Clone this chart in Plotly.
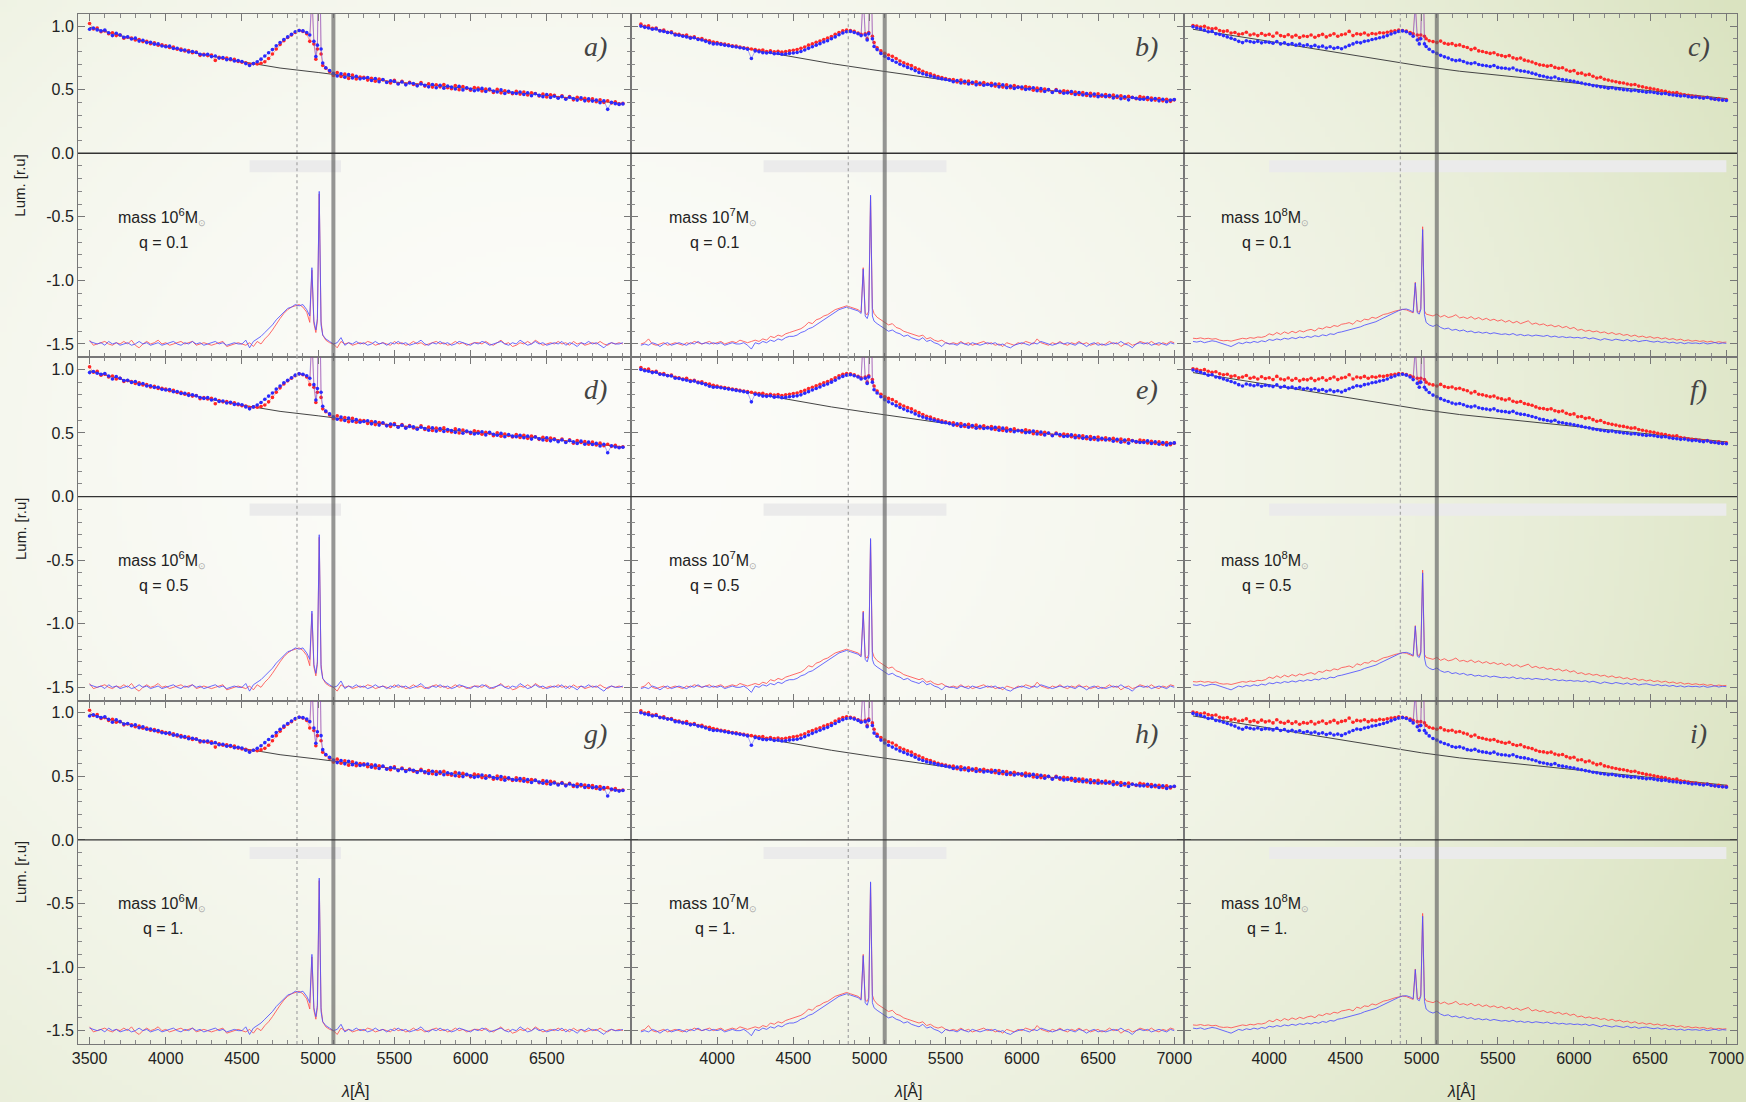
import zlib, struct, base64
import numpy as np
import plotly.graph_objects as go
from plotly.subplots import make_subplots

# ---------------- data ----------------
WL = list(range(3500, 4901, 25)) + [4925, 4945, 4959, 4972, 4985, 4995, 5007, 5019, 5030] + list(range(5050, 7001, 25))

CONT_X = [3500, 3750, 4000, 4250, 4500, 4750, 5000, 5250, 5500, 5750, 6000, 6250, 6500, 6750, 7000]
CONT = [
    [0.99, 0.91, 0.84, 0.775, 0.72, 0.67, 0.635, 0.595, 0.56, 0.535, 0.51, 0.485, 0.455, 0.422, 0.39],
    [1.0, 0.93, 0.865, 0.81, 0.755, 0.705, 0.66, 0.62, 0.575, 0.545, 0.515, 0.485, 0.455, 0.435, 0.415],
    [0.975, 0.93, 0.88, 0.83, 0.78, 0.73, 0.685, 0.645, 0.615, 0.58, 0.55, 0.52, 0.49, 0.46, 0.43],
]

# column 1 : mass 1e6
U1R = [1.020, 0.978, 0.985, 0.955, 0.962, 0.940, 0.948, 0.925, 0.930, 0.905,
       0.912, 0.905, 0.890, 0.895, 0.878, 0.880, 0.862, 0.868, 0.850, 0.852,
       0.845, 0.832, 0.835, 0.818, 0.820, 0.805, 0.808, 0.790, 0.795, 0.770,
       0.778, 0.768, 0.772, 0.730, 0.755, 0.745, 0.748, 0.735, 0.738, 0.722,
       0.715, 0.712, 0.700, 0.705, 0.702, 0.708, 0.720, 0.745, 0.780, 0.820,
       0.855, 0.885, 0.910, 0.930, 0.950, 0.965, 0.958,
       0.940, 0.880, 1.240, 0.860, 0.740, 0.820, 1.820, 0.780, 0.690,
       0.668, 0.642, 0.612, 0.635, 0.603, 0.622, 0.588, 0.615, 0.584, 0.600,
       0.598, 0.575, 0.590, 0.566, 0.583, 0.577, 0.560, 0.552, 0.574, 0.548,
       0.566, 0.545, 0.558, 0.540, 0.536, 0.556, 0.528, 0.546, 0.520, 0.538,
       0.522, 0.540, 0.515, 0.508, 0.532, 0.500, 0.524, 0.510, 0.496, 0.517,
       0.512, 0.490, 0.505, 0.497, 0.478, 0.502, 0.475, 0.492, 0.480, 0.468,
       0.488, 0.465, 0.482, 0.458, 0.475, 0.470, 0.450, 0.466, 0.442, 0.460,
       0.455, 0.438, 0.452, 0.430, 0.446, 0.420, 0.440, 0.425, 0.432, 0.412,
       0.428, 0.405, 0.420, 0.400, 0.412, 0.395, 0.404, 0.388, 0.392]
U1B = [0.975, 0.984, 0.970, 0.962, 0.968, 0.948, 0.925, 0.944, 0.930, 0.912,
       0.915, 0.898, 0.905, 0.882, 0.889, 0.870, 0.872, 0.858, 0.860, 0.843,
       0.838, 0.842, 0.824, 0.826, 0.810, 0.812, 0.796, 0.800, 0.792, 0.779,
       0.772, 0.778, 0.760, 0.765, 0.748, 0.752, 0.736, 0.742, 0.725, 0.728,
       0.722, 0.705, 0.690, 0.705, 0.720, 0.740, 0.765, 0.790, 0.815, 0.845,
       0.870, 0.895, 0.915, 0.935, 0.955, 0.965, 0.962,
       0.950, 0.930, 1.250, 0.880, 0.760, 0.850, 1.850, 0.820, 0.710,
       0.672, 0.650, 0.628, 0.608, 0.625, 0.598, 0.618, 0.592, 0.605, 0.585,
       0.590, 0.596, 0.572, 0.588, 0.562, 0.580, 0.556, 0.570, 0.565, 0.545,
       0.560, 0.538, 0.552, 0.548, 0.530, 0.545, 0.535, 0.522, 0.540, 0.515,
       0.535, 0.512, 0.528, 0.520, 0.505, 0.526, 0.498, 0.515, 0.505, 0.492,
       0.498, 0.510, 0.485, 0.505, 0.490, 0.482, 0.498, 0.470, 0.488, 0.475,
       0.470, 0.482, 0.462, 0.475, 0.452, 0.468, 0.455, 0.445, 0.462, 0.438,
       0.448, 0.432, 0.445, 0.425, 0.440, 0.430, 0.418, 0.436, 0.412, 0.428,
       0.410, 0.418, 0.398, 0.412, 0.345, 0.400, 0.390, 0.384, 0.388]
L1R = [-1.47, -1.51, -1.50, -1.49, -1.48, -1.50, -1.51, -1.49, -1.50, -1.48,
       -1.50, -1.47, -1.51, -1.53, -1.50, -1.48, -1.50, -1.49, -1.47, -1.50,
       -1.49, -1.51, -1.50, -1.49, -1.48, -1.50, -1.49, -1.48, -1.51, -1.50,
       -1.49, -1.50, -1.51, -1.50, -1.49, -1.48, -1.52, -1.51, -1.50, -1.49,
       -1.50, -1.51, -1.49, -1.52, -1.48, -1.50, -1.46, -1.43, -1.39, -1.34,
       -1.30, -1.26, -1.23, -1.21, -1.20, -1.19, -1.21,
       -1.25, -1.33, -0.92, -1.34, -1.41, -1.32, -0.32, -1.32, -1.43,
       -1.47, -1.49, -1.50, -1.53, -1.48, -1.50, -1.49, -1.51, -1.50, -1.49,
       -1.50, -1.48, -1.49, -1.51, -1.50, -1.49, -1.50, -1.51, -1.48, -1.50,
       -1.49, -1.51, -1.50, -1.48, -1.50, -1.49, -1.51, -1.50, -1.49, -1.48,
       -1.50, -1.49, -1.51, -1.50, -1.48, -1.50, -1.49, -1.51, -1.50, -1.49,
       -1.49, -1.50, -1.48, -1.50, -1.51, -1.49, -1.47, -1.50, -1.49, -1.52,
       -1.51, -1.49, -1.50, -1.48, -1.50, -1.47, -1.49, -1.51, -1.50, -1.49,
       -1.50, -1.48, -1.50, -1.49, -1.51, -1.48, -1.50, -1.49, -1.51, -1.50,
       -1.49, -1.50, -1.48, -1.50, -1.51, -1.49, -1.50, -1.49, -1.50]
L1B = [-1.48, -1.49, -1.50, -1.49, -1.51, -1.48, -1.50, -1.49, -1.51, -1.50,
       -1.49, -1.51, -1.50, -1.48, -1.50, -1.49, -1.51, -1.50, -1.49, -1.51,
       -1.50, -1.49, -1.48, -1.50, -1.51, -1.49, -1.50, -1.48, -1.50, -1.49,
       -1.51, -1.50, -1.49, -1.48, -1.50, -1.49, -1.51, -1.50, -1.49, -1.50,
       -1.50, -1.47, -1.53, -1.48, -1.46, -1.44, -1.41, -1.38, -1.35, -1.31,
       -1.28, -1.25, -1.22, -1.21, -1.19, -1.20, -1.19,
       -1.23, -1.28, -0.90, -1.32, -1.39, -1.30, -0.30, -1.35, -1.43,
       -1.46, -1.48, -1.50, -1.49, -1.45, -1.51, -1.49, -1.50, -1.48, -1.50,
       -1.49, -1.51, -1.50, -1.48, -1.50, -1.49, -1.51, -1.49, -1.50, -1.48,
       -1.50, -1.49, -1.51, -1.50, -1.49, -1.47, -1.50, -1.51, -1.49, -1.50,
       -1.48, -1.50, -1.49, -1.51, -1.50, -1.48, -1.49, -1.50, -1.51, -1.49,
       -1.50, -1.48, -1.49, -1.51, -1.50, -1.49, -1.48, -1.50, -1.51, -1.49,
       -1.50, -1.47, -1.49, -1.51, -1.50, -1.48, -1.50, -1.49, -1.51, -1.50,
       -1.49, -1.50, -1.48, -1.51, -1.49, -1.50, -1.52, -1.49, -1.50, -1.48,
       -1.50, -1.49, -1.51, -1.53, -1.50, -1.49, -1.50, -1.50, -1.49]

# column 2 : mass 1e7
U2R = [1.015, 0.998, 1.002, 0.982, 0.985, 0.965, 0.968, 0.952, 0.955, 0.938,
       0.935, 0.925, 0.930, 0.912, 0.915, 0.900, 0.902, 0.888, 0.885, 0.875,
       0.870, 0.862, 0.858, 0.852, 0.845, 0.842, 0.835, 0.830, 0.825, 0.820,
       0.815, 0.810, 0.812, 0.800, 0.805, 0.798, 0.802, 0.795, 0.800, 0.805,
       0.810, 0.815, 0.825, 0.835, 0.850, 0.860, 0.872, 0.882, 0.895, 0.905,
       0.918, 0.935, 0.950, 0.962, 0.968, 0.965, 0.958,
       0.945, 0.935, 1.250, 0.940, 0.900, 0.950, 1.820, 0.920, 0.870,
       0.830, 0.805, 0.785, 0.772, 0.762, 0.745, 0.725, 0.712, 0.700, 0.690,
       0.672, 0.660, 0.645, 0.632, 0.625, 0.612, 0.603, 0.595, 0.588, 0.580,
       0.580, 0.560, 0.575, 0.552, 0.568, 0.548, 0.562, 0.540, 0.556, 0.545,
       0.550, 0.528, 0.545, 0.520, 0.538, 0.515, 0.532, 0.522, 0.508, 0.525,
       0.518, 0.495, 0.512, 0.490, 0.505, 0.498, 0.482, 0.500, 0.478, 0.492,
       0.488, 0.470, 0.482, 0.462, 0.478, 0.455, 0.472, 0.450, 0.468, 0.448,
       0.462, 0.445, 0.458, 0.438, 0.452, 0.432, 0.448, 0.440, 0.428, 0.445,
       0.440, 0.422, 0.435, 0.418, 0.430, 0.412, 0.425, 0.408, 0.420]
U2B = [1.000, 0.990, 0.985, 0.975, 0.978, 0.962, 0.958, 0.950, 0.948, 0.930,
       0.928, 0.920, 0.915, 0.905, 0.908, 0.895, 0.890, 0.880, 0.868, 0.860,
       0.860, 0.856, 0.850, 0.845, 0.840, 0.835, 0.830, 0.825, 0.818, 0.745,
       0.805, 0.798, 0.790, 0.788, 0.792, 0.782, 0.785, 0.778, 0.780, 0.785,
       0.788, 0.792, 0.800, 0.812, 0.825, 0.838, 0.850, 0.862, 0.875, 0.885,
       0.900, 0.915, 0.932, 0.945, 0.955, 0.958, 0.950,
       0.940, 0.925, 1.240, 0.930, 0.890, 0.940, 1.800, 0.900, 0.840,
       0.815, 0.785, 0.762, 0.745, 0.730, 0.715, 0.700, 0.688, 0.675, 0.665,
       0.650, 0.635, 0.625, 0.615, 0.608, 0.600, 0.592, 0.585, 0.580, 0.574,
       0.562, 0.572, 0.552, 0.565, 0.545, 0.558, 0.538, 0.552, 0.535, 0.540,
       0.532, 0.545, 0.522, 0.538, 0.515, 0.528, 0.510, 0.518, 0.520, 0.502,
       0.505, 0.515, 0.492, 0.508, 0.485, 0.500, 0.478, 0.494, 0.488, 0.472,
       0.475, 0.485, 0.462, 0.478, 0.458, 0.470, 0.450, 0.465, 0.445, 0.458,
       0.445, 0.455, 0.435, 0.450, 0.428, 0.444, 0.420, 0.438, 0.432, 0.425,
       0.425, 0.438, 0.418, 0.430, 0.412, 0.425, 0.405, 0.418, 0.422]
L2R = [-1.50, -1.49, -1.46, -1.50, -1.51, -1.50, -1.49, -1.51, -1.50, -1.49,
       -1.50, -1.51, -1.49, -1.50, -1.48, -1.49, -1.50, -1.49, -1.48, -1.50,
       -1.49, -1.48, -1.50, -1.49, -1.48, -1.49, -1.47, -1.48, -1.49, -1.48,
       -1.47, -1.48, -1.46, -1.47, -1.44, -1.45, -1.43, -1.44, -1.42, -1.41,
       -1.40, -1.39, -1.38, -1.36, -1.33, -1.34, -1.31, -1.30, -1.28, -1.27,
       -1.25, -1.23, -1.22, -1.21, -1.20, -1.21, -1.22,
       -1.23, -1.25, -0.90, -1.26, -1.27, -1.24, -0.34, -1.22, -1.26,
       -1.29, -1.31, -1.33, -1.35, -1.34, -1.37, -1.38, -1.40, -1.41, -1.42,
       -1.43, -1.44, -1.43, -1.46, -1.45, -1.47, -1.48, -1.47, -1.49, -1.50,
       -1.49, -1.50, -1.48, -1.50, -1.49, -1.51, -1.50, -1.49, -1.48, -1.50,
       -1.49, -1.51, -1.50, -1.52, -1.49, -1.50, -1.51, -1.49, -1.50, -1.48,
       -1.49, -1.50, -1.46, -1.49, -1.50, -1.51, -1.49, -1.50, -1.48, -1.50,
       -1.51, -1.49, -1.50, -1.48, -1.50, -1.49, -1.51, -1.50, -1.49, -1.51,
       -1.50, -1.48, -1.50, -1.49, -1.52, -1.50, -1.49, -1.51, -1.50, -1.48,
       -1.49, -1.50, -1.48, -1.50, -1.51, -1.49, -1.50, -1.48, -1.49]
L2B = [-1.51, -1.50, -1.51, -1.49, -1.50, -1.52, -1.50, -1.49, -1.51, -1.50,
       -1.49, -1.50, -1.51, -1.49, -1.50, -1.48, -1.50, -1.49, -1.50, -1.49,
       -1.50, -1.49, -1.51, -1.50, -1.49, -1.50, -1.50, -1.49, -1.51, -1.54,
       -1.49, -1.50, -1.48, -1.49, -1.47, -1.48, -1.46, -1.47, -1.45, -1.44,
       -1.44, -1.43, -1.41, -1.40, -1.38, -1.37, -1.35, -1.33, -1.31, -1.29,
       -1.27, -1.25, -1.23, -1.22, -1.21, -1.22, -1.23,
       -1.24, -1.26, -0.91, -1.28, -1.30, -1.26, -0.33, -1.28, -1.32,
       -1.34, -1.36, -1.38, -1.40, -1.39, -1.41, -1.42, -1.44, -1.43, -1.45,
       -1.46, -1.47, -1.45, -1.48, -1.47, -1.49, -1.50, -1.52, -1.49, -1.50,
       -1.50, -1.51, -1.49, -1.50, -1.51, -1.49, -1.50, -1.51, -1.50, -1.49,
       -1.50, -1.49, -1.51, -1.50, -1.52, -1.53, -1.51, -1.50, -1.49, -1.50,
       -1.51, -1.49, -1.50, -1.48, -1.49, -1.50, -1.51, -1.50, -1.49, -1.50,
       -1.49, -1.50, -1.51, -1.49, -1.50, -1.52, -1.50, -1.49, -1.51, -1.50,
       -1.51, -1.50, -1.49, -1.50, -1.48, -1.50, -1.51, -1.53, -1.50, -1.49,
       -1.50, -1.49, -1.51, -1.50, -1.49, -1.50, -1.51, -1.49, -1.50]

# column 3 : mass 1e8
U3R = [1.005, 1.000, 0.992, 0.998, 0.985, 0.978, 0.982, 0.965, 0.958, 0.962,
       0.945, 0.950, 0.935, 0.940, 0.952, 0.930, 0.938, 0.925, 0.942, 0.928,
       0.935, 0.920, 0.945, 0.925, 0.918, 0.932, 0.915, 0.928, 0.910, 0.922,
       0.918, 0.930, 0.912, 0.925, 0.935, 0.915, 0.928, 0.940, 0.920, 0.932,
       0.938, 0.958, 0.925, 0.940, 0.935, 0.945, 0.930, 0.942, 0.938, 0.948,
       0.945, 0.952, 0.958, 0.962, 0.968, 0.965, 0.960,
       0.950, 0.940, 1.180, 0.930, 0.900, 0.930, 1.600, 0.920, 0.900,
       0.885, 0.878, 0.870, 0.882, 0.865, 0.858, 0.862, 0.848, 0.852, 0.840,
       0.832, 0.815, 0.825, 0.805, 0.800, 0.792, 0.785, 0.790, 0.775, 0.768,
       0.760, 0.768, 0.750, 0.742, 0.748, 0.732, 0.725, 0.718, 0.705, 0.695,
       0.692, 0.685, 0.690, 0.675, 0.668, 0.672, 0.655, 0.645, 0.650, 0.628,
       0.630, 0.615, 0.620, 0.605, 0.592, 0.598, 0.582, 0.575, 0.568, 0.562,
       0.555, 0.552, 0.545, 0.538, 0.540, 0.528, 0.522, 0.515, 0.510, 0.505,
       0.498, 0.492, 0.488, 0.480, 0.475, 0.478, 0.465, 0.460, 0.455, 0.450,
       0.448, 0.442, 0.438, 0.440, 0.432, 0.425, 0.430, 0.418, 0.422]
U3B = [0.995, 0.985, 0.978, 0.968, 0.955, 0.958, 0.940, 0.935, 0.925, 0.915,
       0.905, 0.895, 0.880, 0.870, 0.885, 0.878, 0.872, 0.880, 0.868, 0.875,
       0.872, 0.865, 0.878, 0.860, 0.868, 0.855, 0.862, 0.850, 0.858, 0.845,
       0.852, 0.840, 0.848, 0.835, 0.842, 0.828, 0.838, 0.825, 0.832, 0.822,
       0.835, 0.848, 0.860, 0.872, 0.868, 0.880, 0.885, 0.895, 0.900, 0.908,
       0.915, 0.925, 0.938, 0.948, 0.958, 0.962, 0.955,
       0.940, 0.920, 1.160, 0.890, 0.860, 0.900, 1.580, 0.860, 0.840,
       0.818, 0.798, 0.785, 0.770, 0.758, 0.748, 0.735, 0.728, 0.732, 0.722,
       0.710, 0.705, 0.712, 0.698, 0.692, 0.688, 0.682, 0.690, 0.675, 0.670,
       0.668, 0.662, 0.670, 0.655, 0.648, 0.645, 0.638, 0.630, 0.622, 0.610,
       0.605, 0.598, 0.592, 0.600, 0.585, 0.580, 0.575, 0.570, 0.565, 0.558,
       0.552, 0.545, 0.540, 0.532, 0.528, 0.522, 0.518, 0.512, 0.515, 0.508,
       0.505, 0.500, 0.498, 0.492, 0.495, 0.488, 0.485, 0.480, 0.482, 0.478,
       0.472, 0.468, 0.470, 0.462, 0.458, 0.455, 0.450, 0.452, 0.445, 0.440,
       0.442, 0.436, 0.432, 0.438, 0.428, 0.425, 0.420, 0.418, 0.415]
L3R = [-1.455, -1.458, -1.452, -1.460, -1.455, -1.462, -1.458, -1.470, -1.475, -1.472,
       -1.478, -1.470, -1.462, -1.455, -1.460, -1.450, -1.455, -1.445, -1.448, -1.440,
       -1.420, -1.430, -1.410, -1.425, -1.405, -1.418, -1.400, -1.412, -1.395, -1.405,
       -1.392, -1.385, -1.398, -1.375, -1.382, -1.365, -1.372, -1.355, -1.362, -1.345,
       -1.340, -1.332, -1.345, -1.315, -1.325, -1.305, -1.310, -1.290, -1.298, -1.280,
       -1.268, -1.262, -1.250, -1.242, -1.235, -1.228, -1.232,
       -1.245, -1.255, -1.015, -1.245, -1.250, -1.220, -0.578, -1.240, -1.265,
       -1.272, -1.280, -1.265, -1.288, -1.275, -1.292, -1.285, -1.270, -1.295, -1.288,
       -1.300, -1.285, -1.305, -1.292, -1.310, -1.298, -1.315, -1.305, -1.320, -1.310,
       -1.328, -1.315, -1.335, -1.322, -1.340, -1.330, -1.318, -1.345, -1.335, -1.350,
       -1.342, -1.358, -1.350, -1.365, -1.355, -1.372, -1.362, -1.380, -1.370, -1.392,
       -1.385, -1.400, -1.392, -1.405, -1.398, -1.412, -1.405, -1.420, -1.410, -1.425,
       -1.418, -1.432, -1.425, -1.440, -1.430, -1.445, -1.438, -1.450, -1.442, -1.455,
       -1.448, -1.460, -1.452, -1.465, -1.458, -1.470, -1.462, -1.475, -1.468, -1.478,
       -1.472, -1.480, -1.475, -1.485, -1.478, -1.490, -1.482, -1.488, -1.485]
L3B = [-1.480, -1.485, -1.478, -1.490, -1.482, -1.475, -1.480, -1.488, -1.500, -1.510,
       -1.520, -1.505, -1.490, -1.498, -1.485, -1.492, -1.480, -1.488, -1.475, -1.482,
       -1.465, -1.472, -1.460, -1.468, -1.455, -1.462, -1.450, -1.458, -1.445, -1.452,
       -1.440, -1.448, -1.435, -1.442, -1.428, -1.435, -1.420, -1.425, -1.410, -1.405,
       -1.398, -1.390, -1.382, -1.372, -1.365, -1.352, -1.345, -1.332, -1.325, -1.310,
       -1.295, -1.280, -1.262, -1.250, -1.238, -1.228, -1.225,
       -1.235, -1.250, -1.020, -1.255, -1.265, -1.230, -0.600, -1.270, -1.330,
       -1.350, -1.362, -1.348, -1.370, -1.382, -1.375, -1.392, -1.385, -1.398, -1.390,
       -1.405, -1.398, -1.412, -1.405, -1.415, -1.408, -1.420, -1.412, -1.418, -1.425,
       -1.420, -1.428, -1.418, -1.432, -1.425, -1.435, -1.428, -1.438, -1.430, -1.435,
       -1.440, -1.432, -1.445, -1.438, -1.448, -1.442, -1.450, -1.445, -1.452, -1.448,
       -1.455, -1.448, -1.460, -1.452, -1.462, -1.470, -1.458, -1.465, -1.472, -1.462,
       -1.468, -1.475, -1.465, -1.478, -1.470, -1.482, -1.475, -1.472, -1.480, -1.485,
       -1.478, -1.488, -1.482, -1.492, -1.485, -1.495, -1.488, -1.498, -1.490, -1.495,
       -1.492, -1.498, -1.490, -1.500, -1.495, -1.488, -1.498, -1.492, -1.495]

UP_RED = [U1R, U2R, U3R]
UP_BLUE = [U1B, U2B, U3B]
LO_RED = [L1R, L2R, L3R]
LO_BLUE = [L1B, L2B, L3B]
for name, arrs in [("UP_RED", UP_RED), ("UP_BLUE", UP_BLUE), ("LO_RED", LO_RED), ("LO_BLUE", LO_BLUE)]:
    for i, a in enumerate(arrs):
        assert len(a) == len(WL), (name, i, len(a), len(WL))

MASS_EXP = ["6", "7", "8"]
Q_LABELS = ["q = 0.1", "q = 0.5", "q = 1."]
PANEL_LETTERS = [["a)", "b)", "c)"], ["d)", "e)", "f)"], ["g)", "h)", "i)"]]
BAR_RANGES = [(4550, 5150), (4305, 5505), (4000, 7000)]
BAR_Y = (-0.055, -0.15)
HBETA_WL = 4861
CUT_WL = 5100
X_RANGES = [[3424, 7053], [3435, 7064], [3441, 7070]]
Y_RANGE = [-1.605, 1.095]
X_TICKS = [[3500, 4000, 4500, 5000, 5500, 6000, 6500],
           [4000, 4500, 5000, 5500, 6000, 6500, 7000],
           [4000, 4500, 5000, 5500, 6000, 6500, 7000]]
Y_TICKS = [-1.5, -1.0, -0.5, 0.0, 0.5, 1.0]
Y_TICKTEXT = ["-1.5", "-1.0", "-0.5", "0.0", "0.5", "1.0"]

# ---------------- background gradient image ----------------
W, H = 1746, 1102
ML, MR, MT, MB = 78, 9, 14, 58
PW, PH = W - ML - MR, H - MT - MB


def png_uri(arr):
    h, w, _ = arr.shape
    raw = b"".join(b"\x00" + arr[y].tobytes() for y in range(h))

    def chunk(t, d):
        c = struct.pack(">I", len(d)) + t + d
        return c + struct.pack(">I", zlib.crc32(t + d) & 0xFFFFFFFF)

    png = (b"\x89PNG\r\n\x1a\n"
           + chunk(b"IHDR", struct.pack(">IIBBBBB", w, h, 8, 2, 0, 0, 0))
           + chunk(b"IDAT", zlib.compress(raw, 9))
           + chunk(b"IEND", b""))
    return "data:image/png;base64," + base64.b64encode(png).decode()


gw, gh = 350, 221
gx, gy = np.meshgrid(np.linspace(0, W, gw), np.linspace(0, H, gh))
t = np.sqrt(((gx - 560) / 1300.0) ** 2 + ((gy - 460) / 1100.0) ** 2)
f = np.clip(t, 0, 1) ** 2
light = np.array([252, 252, 249], float)
green = np.array([218, 227, 192], float)
img = light[None, None, :] + (green - light)[None, None, :] * f[:, :, None]
img = np.clip(img, 0, 255).astype(np.uint8)
bg_uri = png_uri(img)

# ---------------- figure ----------------
fig = make_subplots(rows=3, cols=3, horizontal_spacing=0, vertical_spacing=0)

RED_DOT = "#ff2626"
BLUE_DOT = "#2a2aff"
for r in range(1, 4):
    for c in range(1, 4):
        ci = c - 1
        n = (r - 1) * 3 + c
        xs = "" if n == 1 else str(n)
        fig.add_shape(type="rect", xref="x" + xs, yref="y" + xs,
                      x0=BAR_RANGES[ci][0], x1=BAR_RANGES[ci][1], y0=BAR_Y[0], y1=BAR_Y[1],
                      fillcolor="#ebebeb", line=dict(width=0), layer="below")
        fig.add_trace(go.Scatter(x=CONT_X, y=CONT[ci], mode="lines",
                                 line=dict(color="#444444", width=1), hoverinfo="skip"), row=r, col=c)
        fig.add_trace(go.Scatter(x=WL, y=UP_RED[ci], mode="lines+markers",
                                 line=dict(color="rgba(255,60,60,0.55)", width=0.8),
                                 marker=dict(color=RED_DOT, size=3.6), hoverinfo="skip"), row=r, col=c)
        fig.add_trace(go.Scatter(x=WL, y=UP_BLUE[ci], mode="lines+markers",
                                 line=dict(color="rgba(60,60,255,0.55)", width=0.8),
                                 marker=dict(color=BLUE_DOT, size=3.6), hoverinfo="skip"), row=r, col=c)
        fig.add_trace(go.Scatter(x=WL, y=LO_RED[ci], mode="lines",
                                 line=dict(color="rgba(255,80,80,0.85)", width=1), hoverinfo="skip"), row=r, col=c)
        fig.add_trace(go.Scatter(x=WL, y=LO_BLUE[ci], mode="lines",
                                 line=dict(color="rgba(80,80,255,0.85)", width=1), hoverinfo="skip"), row=r, col=c)
        fig.add_shape(type="line", xref="x" + xs, yref="y" + xs + " domain",
                      x0=HBETA_WL, x1=HBETA_WL, y0=0, y1=1,
                      line=dict(color="#aaaaaa", width=1.3, dash="dot"))
        fig.add_shape(type="line", xref="x" + xs, yref="y" + xs + " domain",
                      x0=CUT_WL, x1=CUT_WL, y0=0, y1=1,
                      line=dict(color="rgba(95,95,95,0.65)", width=4))
        fig.add_shape(type="line", xref="x" + xs + " domain", yref="y" + xs,
                      x0=0, x1=1, y0=0, y1=0, line=dict(color="#333333", width=1.3))
        fig.add_annotation(xref="x" + xs, yref="y" + xs, x=6820, y=0.84,
                           xanchor="center", yanchor="middle",
                           text="<i>%s</i>" % PANEL_LETTERS[r - 1][ci], showarrow=False,
                           font=dict(family="Liberation Serif", size=28, color="#444444"))
        fig.add_annotation(xref="x" + xs, yref="y" + xs, x=3975, y=-0.50,
                           xanchor="center", yanchor="middle",
                           text="mass 10<sup>%s</sup>M<sub><span style='font-size:9px;color:#aaaaaa'>⊙</span></sub>" % MASS_EXP[ci],
                           showarrow=False, font=dict(family="Liberation Sans", size=16, color="#222222"))
        fig.add_annotation(xref="x" + xs, yref="y" + xs, x=3985, y=-0.70,
                           xanchor="center", yanchor="middle",
                           text=Q_LABELS[r - 1], showarrow=False,
                           font=dict(family="Liberation Sans", size=16, color="#222222"))

        fig.update_xaxes(row=r, col=c, range=X_RANGES[ci], tickmode="array", tickvals=X_TICKS[ci],
                         ticktext=[str(v) for v in X_TICKS[ci]], showticklabels=(r == 3),
                         ticks="inside", ticklen=7, tickwidth=1, tickcolor="#777777",
                         minor=dict(ticks="inside", ticklen=4, tickcolor="#888888",
                                    tickvals=list(range(3500, 7001, 100))),
                         showline=True, linecolor="#777777", linewidth=1, mirror="ticks",
                         showgrid=False, zeroline=False, automargin=False,
                         tickfont=dict(family="Liberation Sans", size=16, color="#222222"))
        fig.update_yaxes(row=r, col=c, range=Y_RANGE, tickmode="array", tickvals=Y_TICKS,
                         ticktext=Y_TICKTEXT, showticklabels=(c == 1),
                         ticks="inside", ticklen=7, tickwidth=1, tickcolor="#777777",
                         minor=dict(ticks="inside", ticklen=4, tickcolor="#888888",
                                    tickvals=[round(v, 1) for v in np.arange(-1.6, 1.05, 0.1)]),
                         showline=True, linecolor="#777777", linewidth=1, mirror="ticks",
                         showgrid=False, zeroline=False, automargin=False,
                         tickfont=dict(family="Liberation Sans", size=16, color="#222222"))

for r in range(3):
    fig.add_annotation(xref="paper", yref="paper", x=(20 - ML) / PW, y=1 - (r + 0.5) / 3,
                       xanchor="center", yanchor="middle",
                       text="Lum. [r.u]", textangle=-90, showarrow=False,
                       font=dict(family="Liberation Sans", size=15, color="#222222"))
for c in range(3):
    fig.add_annotation(xref="paper", yref="paper", x=(c + 0.5) / 3, y=-(1091 - (H - MB)) / PH,
                       xanchor="center", yanchor="middle",
                       text="<i>λ</i>[Å]", showarrow=False,
                       font=dict(family="Liberation Sans", size=16, color="#222222"))

fig.add_layout_image(dict(source=bg_uri, xref="paper", yref="paper",
                          x=-ML / PW, y=1 + MT / PH, sizex=W / PW, sizey=H / PH,
                          xanchor="left", yanchor="top", sizing="stretch", layer="below"))

fig.update_layout(width=W, height=H, margin=dict(l=ML, r=MR, t=MT, b=MB),
                  paper_bgcolor="#eef1e2", plot_bgcolor="rgba(0,0,0,0)",
                  showlegend=False)

fig.write_html("out.html", config={"displayModeBar": False},
               post_script="document.body.style.margin='0px';document.body.style.background='#eef1e2';")
